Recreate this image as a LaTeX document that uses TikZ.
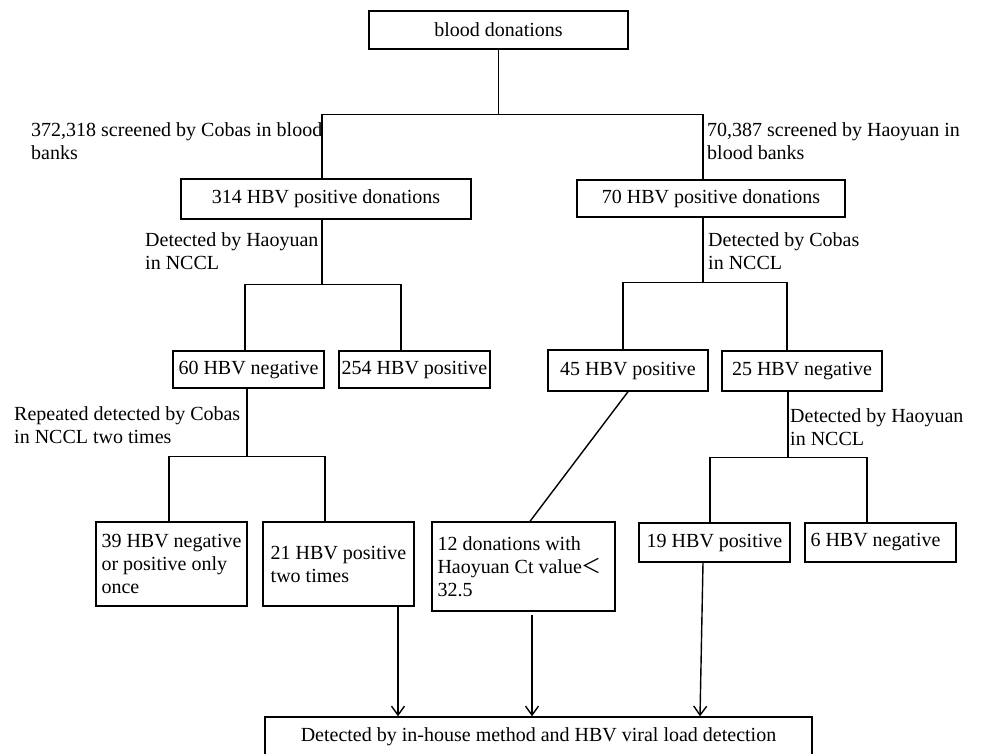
\documentclass[tikz,border=0pt]{standalone}
\usepackage{fontspec}
\setmainfont{Liberation Serif}
\newfontfamily\cjk{Noto Sans CJK SC}
\usepackage{tikz}
\usetikzlibrary{arrows.meta}

\begin{document}
\begin{tikzpicture}[
    x=1pt, y=-1pt,
    every node/.style={font=\fontsize{20}{23}\selectfont},
    box/.style={draw, line width=1.4pt, inner sep=2pt, align=left},
    note/.style={inner sep=0pt, align=left, anchor=north west},
    link/.style={line width=1.4pt},
    flow/.style={-{Straight Barb[length=9pt,width=13pt]}, line width=1.4pt}
  ]
    \useasboundingbox (0,0) rectangle (981,753);
    \node[box, minimum width=259pt, minimum height=38pt] (donate) at (498.5,30) {blood donations};
    \node[box, minimum width=290pt, minimum height=40pt] (cobas) at (326,199) {314 HBV positive donations};
    \node[box, minimum width=268pt, minimum height=37pt] (haoyuan) at (711,198.5) {70 HBV positive donations};
    \node[box, minimum width=151pt, minimum height=37pt] (neg60) at (248.5,369.5) {60 HBV negative};
    \node[box, minimum width=151pt, minimum height=37pt] (pos254) at (414.5,369.5) {254 HBV positive};
    \node[box, minimum width=160pt, minimum height=41pt] (pos45) at (628,370.5) {45 HBV positive};
    \node[box, minimum width=160pt, minimum height=40pt] (neg25) at (802,371) {25 HBV negative};
    \node[box, minimum width=151pt, minimum height=84pt] (once) at (171.5,564) {39 HBV negative\\or positive only\\once};
    \node[box, minimum width=151pt, minimum height=84pt, xshift=2pt] (twice) at (336.5,564) {21 HBV positive\\two times};
    \node[box, minimum width=183pt, minimum height=89pt, text width=172pt, align=flush left] (ct) at (523.5,566.5) {12 donations with\\Haoyuan Ct value{\cjk ＜}\\32.5};
    \node[box, minimum width=151pt, minimum height=39pt] (pos19) at (714.5,542.5) {19 HBV positive};
    \node[box, minimum width=151pt, minimum height=39pt, text width=140pt, align=flush left] (neg6) at (880.5,542.5) {6 HBV negative};
    \node[box, minimum width=547pt, minimum height=40pt] (final) at (538.5,737) {Detected by in-house method and HBV viral load detection};

    \node[note] (lcobas) at (31,122) {372,318 screened by Cobas in blood\\banks};
    \node[note] (lhaoyuan) at (707,122) {70,387 screened by Haoyuan in\\blood banks};
    \node[note] (lnccl1) at (145,232) {Detected by Haoyuan\\in NCCL};
    \node[note] (lnccl2) at (708,232) {Detected by Cobas\\in NCCL};
    \node[note] (lrepeat) at (14,406) {Repeated detected by Cobas\\in NCCL two times};
    \node[note] (lnccl3) at (790,408) {Detected by Haoyuan\\in NCCL};

    \draw[link] (donate.south) -- ++(0,65) -| ([xshift=-4pt]cobas.north);
    \draw[link] (donate.south) ++(0,65) -| ([xshift=-8pt]haoyuan.north);
    \draw[link] ([xshift=-4pt]cobas.south) -- ++(0,65) -| ([xshift=-3.5pt]neg60.north);
    \draw[link] ([xshift=-4pt]cobas.south) ++(0,65) -| ([xshift=-13.5pt]pos254.north);
    \draw[link] ([xshift=-1.5pt]neg60.south) -- ++(0,68) -| ([xshift=-2.5pt]once.north);
    \draw[link] ([xshift=-1.5pt]neg60.south) ++(0,68) -| ([xshift=-13.5pt]twice.north);
    \draw[link] ([xshift=-8pt]haoyuan.south) -- ++(0,65) -| ([xshift=-5pt]pos45.north);
    \draw[link] ([xshift=-8pt]haoyuan.south) ++(0,65) -| ([xshift=-15pt]neg25.north);
    \draw[link] ([xshift=-14pt]neg25.south) -- ++(0,66) -| ([xshift=-4.5pt]pos19.north);
    \draw[link] ([xshift=-14pt]neg25.south) ++(0,66) -| ([xshift=-13.5pt]neg6.north);
    \draw[link] (pos45.south) -- ([xshift=6.5pt]ct.north);
    \draw[flow] ([xshift=59.5pt]twice.south) -- ([xshift=-140.5pt]final.north);
    \draw[flow] ([xshift=8.5pt,yshift=-3pt]ct.south) -- ([xshift=-6.5pt]final.north);
    \draw[flow] ([xshift=-11.5pt]pos19.south) -- ([xshift=161.5pt]final.north);
  \end{tikzpicture}
\end{document}
